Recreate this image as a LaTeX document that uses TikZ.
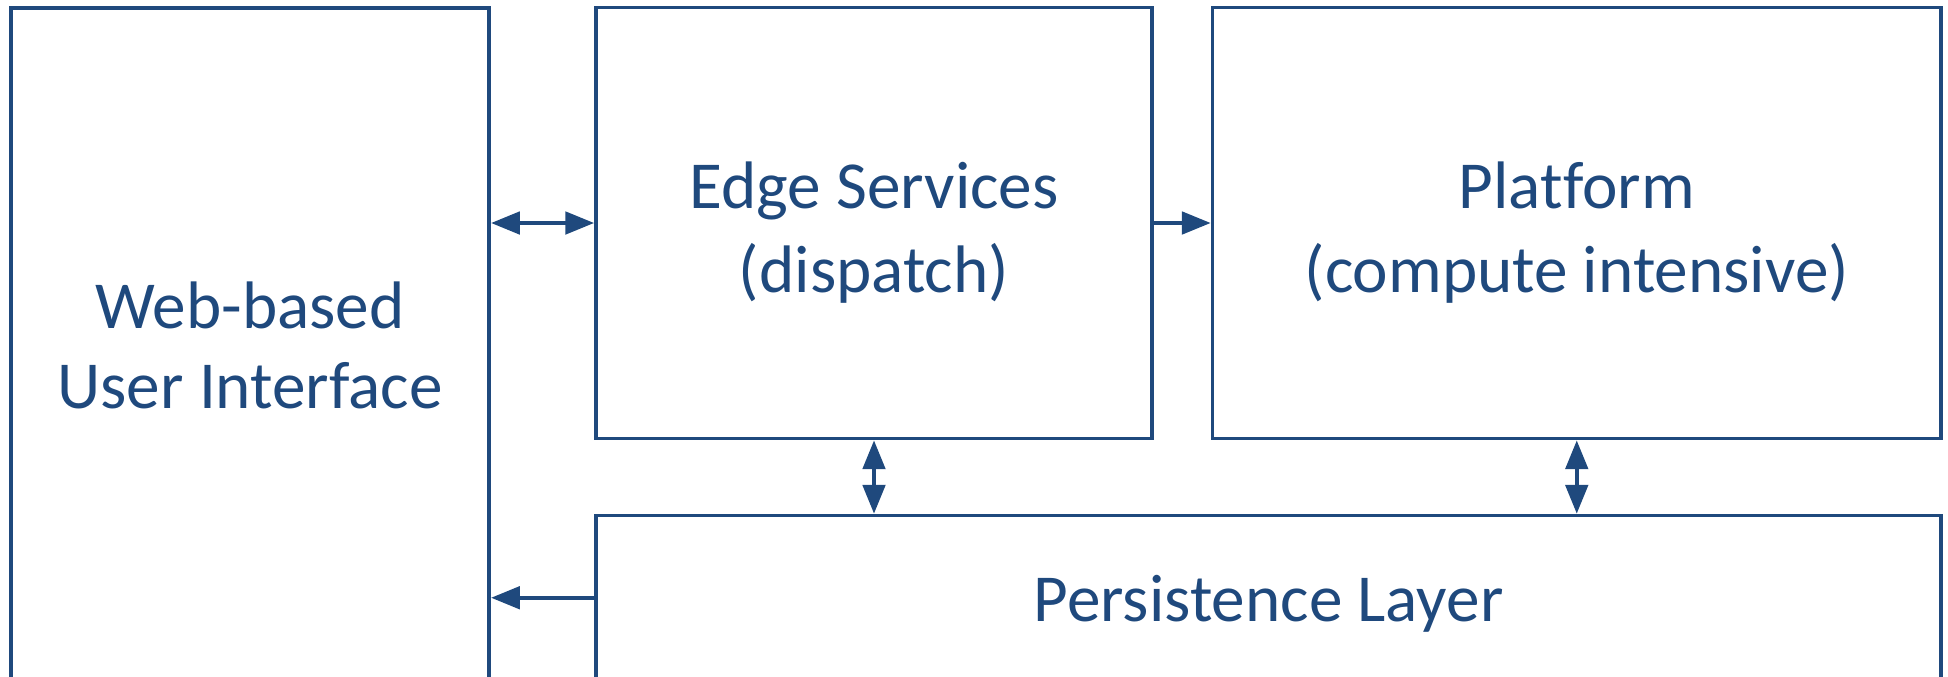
\documentclass[tikz,border=0pt]{standalone}
\usepackage{fontspec}
\setmainfont{Carlito}[Ligatures=NoCommon]
\usepackage{xcolor}
\usepackage{tikz}
\usetikzlibrary{arrows.meta,positioning}
\definecolor{boxblue}{RGB}{31,73,125}

\begin{document}
\begin{tikzpicture}[
  x=0.25pt, y=-0.25pt,
  box/.style={draw=boxblue, line width=0.95pt, text=boxblue, align=center,
    inner sep=0pt, text depth=0pt, font=\fontsize{16.8}{20.85}\selectfont},
  arrow/.style={-{Triangle[length=7.2pt,width=5.6pt]}, line width=0.95pt, draw=boxblue},
  dblarrow/.style={{Triangle[length=7.2pt,width=5.6pt]}-{Triangle[length=7.2pt,width=5.6pt]}, line width=0.95pt, draw=boxblue}
]
  \useasboundingbox (0,0) rectangle (1948,676);
  \clip (0,0) rectangle (1948,676);

  \node[box, minimum width=119.6pt, minimum height=168.1pt, text height=32.2pt,
    font=\fontsize{16.8}{20}\selectfont] (ui) at (250,344) {Web-based\\User Interface};
  \node[box, minimum width=139pt, minimum height=107.75pt, text height=34.6pt] (edge) at (874,223) {Edge Services\\(dispatch)};
  \node[box, minimum width=182.1pt, minimum height=107.75pt, text height=34.6pt] (platform) at (1576.75,223) {Platform\\(compute intensive)};
  \node[box, minimum width=336.25pt, minimum height=41.1pt, text height=12pt] (persist) at (1268.5,597.75) {Persistence Layer};

  \draw[dblarrow] (edge.west) -- (edge.west -| ui.east);
  \draw[arrow] (edge.east) -- (platform.west);
  \draw[dblarrow] (edge.south) -- (edge.south |- persist.north);
  \draw[dblarrow] (platform.south) -- (platform.south |- persist.north);
  \draw[arrow] (persist.west) -- (persist.west -| ui.east);
\end{tikzpicture}
\end{document}
